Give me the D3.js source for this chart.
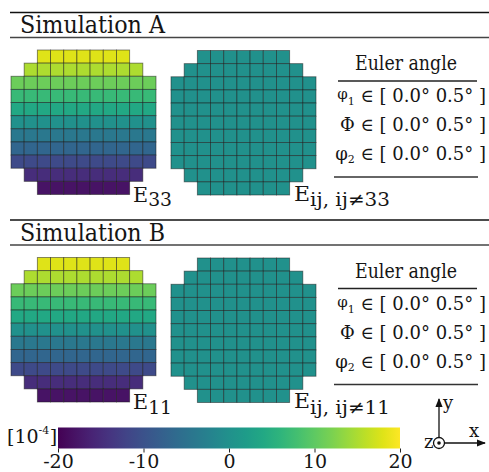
<!DOCTYPE html>
<html><head><meta charset="utf-8">
<script src="https://cdn.jsdelivr.net/npm/d3@7"></script>
<style>body{margin:0;background:#fff}svg{display:block}text{font-family:"DejaVu Serif","Liberation Serif",serif;fill:#151515}</style>
</head><body><svg id="c" width="489" height="472"></svg>
<script>
// ---- data ----
const sections = ["Simulation A", "Simulation B"];
const mainLabels = ["33", "11"];
const rowValues = [18, 15, 11, 7, 4, 0, -4, -7, -11, -15, -18]; // strain per row (10^-4), top to bottom
const otherValue = 0; // E_ij, ij != main
const rowSpans = [[2,8],[1,9],[0,10],[0,10],[0,10],[0,10],[0,10],[0,10],[0,10],[1,9],[2,8]];
const eulerNames = ["φ", "Φ", "φ"];
const eulerSubs = ["1", "", "2"];
const eulerRange = ["0.0°", "0.5°"];
const cbTicks = [-20, -10, 0, 10, 20];

const FONT = '"DejaVu Serif","Liberation Serif",serif';
const svg = d3.select("#c");
const color = d3.scaleSequential(d3.interpolateViridis).domain([-20, 20]);
const cols = d3.range(11), rows = d3.range(11);

function grid(parent, x0, x1, y0, y1, valueFn) {
  const g = parent.append("g");
  const x = d3.scaleBand().domain(cols).range([x0, x1]);
  const y = d3.scaleBand().domain(rows).range([y0, y1]);
  const cells = [];
  rows.forEach(r => { for (let c = rowSpans[r][0]; c <= rowSpans[r][1]; c++) cells.push({r, c, v: valueFn(r)}); });
  g.selectAll("rect").data(cells).join("rect")
    .attr("x", d => x(d.c)).attr("y", d => y(d.r))
    .attr("width", x.bandwidth()).attr("height", y.bandwidth())
    .attr("fill", d => color(d.v)).attr("stroke", "#1a1a1a").attr("stroke-opacity", 0.55).attr("stroke-width", 0.9);
}

sections.forEach((name, i) => {
  const off = i * 207.5;
  const g = svg.append("g").attr("transform", `translate(0,${off})`).attr("font-family", FONT);
  g.append("line").attr("x1", 10).attr("x2", 489).attr("y1", 12.5).attr("y2", 12.5).attr("stroke", "#111").attr("stroke-width", 1.4);
  g.append("line").attr("x1", 10).attr("x2", 489).attr("y1", 37.5).attr("y2", 37.5).attr("stroke", "#444").attr("stroke-width", 1.6);
  g.append("text").attr("x", 20).attr("y", 33).attr("font-size", 24).attr("textLength", 145).attr("lengthAdjust", "spacingAndGlyphs").text(name);

  grid(g, 11, 156, 50, 194.5, r => rowValues[r]);
  grid(g, 171, 316, 50.5, 195, r => otherValue);

  // labels
  const t1 = g.append("text").attr("x", 133).attr("y", 201.5).attr("font-size", 21).attr("textLength", 39).attr("lengthAdjust", "spacingAndGlyphs");
  t1.append("tspan").text("E");
  t1.append("tspan").attr("dy", 4.5).attr("font-size", 19).text(mainLabels[i]);
  const t2 = g.append("text").attr("x", 294).attr("y", 200.7).attr("font-size", 21).attr("textLength", 96).attr("lengthAdjust", "spacingAndGlyphs");
  t2.append("tspan").text("E");
  t2.append("tspan").attr("dy", 5.3).attr("font-size", 19).text("ij, ij≠" + mainLabels[i]);

  // Euler table
  g.append("text").attr("x", 406).attr("y", 70).attr("text-anchor", "middle").attr("font-size", 20).attr("textLength", 102).attr("lengthAdjust", "spacingAndGlyphs").text("Euler angle");
  g.append("line").attr("x1", 338).attr("x2", 477).attr("y1", 81).attr("y2", 81).attr("stroke", "#222").attr("stroke-width", 1.3);
  const ys = [102, 131, 160];
  eulerNames.forEach((n, k) => {
    const t = g.append("text").attr("x", 486).attr("y", ys[k]).attr("font-size", 18).attr("text-anchor", "end");
    t.append("tspan").attr("font-size", k === 0 ? 15 : 18).attr("dy", k === 0 ? -3 : 0).text(n);
    if (eulerSubs[k]) t.append("tspan").attr("font-size", 11).attr("dy", k === 0 ? 6 : 3).text(eulerSubs[k]);
    const back = k === 0 ? -3 : (eulerSubs[k] ? -3 : 0);
    t.append("tspan").attr("dy", back).text(` ∈ [ ${eulerRange[0]} ${eulerRange[1]} ]`);
  });
  g.append("line").attr("x1", 334).attr("x2", 478).attr("y1", 177).attr("y2", 177).attr("stroke", "#333").attr("stroke-width", 1.3);
});

// colorbar
const cx = d3.scaleLinear().domain([-20, 20]).range([58, 400]);
const defs = svg.append("defs");
const grad = defs.append("linearGradient").attr("id", "vg");
d3.range(0, 1.0001, 0.05).forEach(t => grad.append("stop").attr("offset", t).attr("stop-color", color(-20 + 40 * t)));
svg.append("rect").attr("x", 58).attr("y", 427.5).attr("width", 342).attr("height", 21).attr("fill", "url(#vg)");
const ax = svg.append("g").attr("transform", "translate(0,448.5)")
  .call(d3.axisBottom(cx).tickValues(cbTicks).tickSize(4).tickPadding(2).tickFormat(d => d < 0 ? "-" + Math.abs(d) : d));
ax.attr("font-family", FONT).attr("font-size", 19);
ax.select(".domain").remove();
ax.selectAll("line").attr("stroke", "#222");
ax.selectAll("text").attr("font-size", 19).attr("font-family", FONT).attr("fill", "#151515").attr("dy", "0.72em");

// unit label [10^-4] as separate pieces
const u1 = svg.append("text").attr("x", 7).attr("y", 443).attr("font-size", 19).attr("font-family", FONT).text("[10");
const w1 = u1.node().getComputedTextLength();
const u2 = svg.append("text").attr("x", 7 + w1).attr("y", 434).attr("font-size", 11).attr("font-family", FONT).text("-4");
const w2 = u2.node().getComputedTextLength();
svg.append("text").attr("x", 7 + w1 + w2 + 0.5).attr("y", 443).attr("font-size", 19).attr("font-family", FONT).text("]");

// axes icon
const ic = svg.append("g").attr("font-family", FONT);
defs.append("marker").attr("id", "ah").attr("viewBox", "0 0 10 10").attr("refX", 9).attr("refY", 5)
  .attr("markerWidth", 7).attr("markerHeight", 7).attr("orient", "auto")
  .append("path").attr("d", "M0,1 L10,5 L0,9 Z").attr("fill", "#111");
ic.append("line").attr("x1", 439).attr("y1", 437.5).attr("x2", 439).attr("y2", 399).attr("stroke", "#111").attr("stroke-width", 1.3).attr("marker-end", "url(#ah)");
ic.append("line").attr("x1", 444.5).attr("y1", 443).attr("x2", 485).attr("y2", 443).attr("stroke", "#111").attr("stroke-width", 1.3).attr("marker-end", "url(#ah)");
ic.append("circle").attr("cx", 439).attr("cy", 443).attr("r", 5.5).attr("fill", "none").attr("stroke", "#111").attr("stroke-width", 1.3);
ic.append("circle").attr("cx", 439).attr("cy", 443).attr("r", 1.8).attr("fill", "#111");
ic.append("text").attr("x", 443).attr("y", 409).attr("font-size", 18).text("y");
ic.append("text").attr("x", 469).attr("y", 437).attr("font-size", 18).text("x");
ic.append("text").attr("x", 424).attr("y", 448).attr("font-size", 18).text("z");
</script></body></html>
